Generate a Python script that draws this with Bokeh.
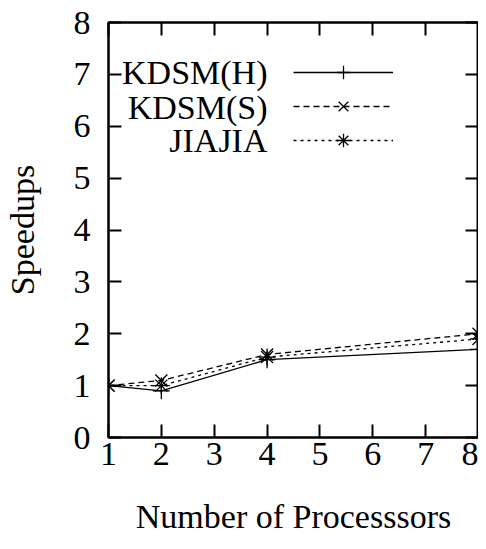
from bokeh.plotting import figure
from bokeh.models import (FixedTicker, LinearAxis, Legend, LegendItem, Label)
from bokeh.embed import file_html
from bokeh.resources import INLINE

# ---- data ----
procs = [1, 2, 4, 8]
kdsm_h = [1.0, 0.9, 1.5, 1.7]
kdsm_s = [1.0, 1.1, 1.6, 2.0]
jiajia = [1.0, 1.0, 1.55, 1.9]
series_names = ["KDSM(H)", "KDSM(S)", "JIAJIA"]
x_ticks = [1, 2, 3, 4, 5, 6, 7, 8]
y_ticks = [0, 1, 2, 3, 4, 5, 6, 7, 8]

FONT = "Liberation Serif"
FS = "34px"

p = figure(width=478, height=541, x_range=(1, 8), y_range=(0, 8),
           output_backend="svg", toolbar_location=None,
           min_border_left=100, min_border_right=0,
           min_border_top=22, min_border_bottom=104,
           x_axis_label="Number of Processsors", y_axis_label="Speedups")
p.grid.visible = False
p.background_fill_color = "white"
p.border_fill_color = "white"
p.outline_line_color = "black"
p.outline_line_width = 2

for ax in p.xaxis + p.yaxis:
    ax.major_tick_in = 13
    ax.major_tick_out = 0
    ax.minor_tick_line_color = None
    ax.major_tick_line_width = 2
    ax.axis_line_width = 2
    ax.major_label_text_font = FONT
    ax.major_label_text_font_size = FS
    ax.major_label_text_color = "black"
    ax.axis_label_text_font = FONT
    ax.axis_label_text_font_size = FS
    ax.axis_label_text_font_style = "normal"
    ax.axis_label_text_color = "black"

p.xaxis.ticker = FixedTicker(ticks=x_ticks)
p.yaxis.ticker = FixedTicker(ticks=y_ticks)
p.xaxis.major_label_standoff = 5
p.xaxis.axis_label_standoff = 30
p.yaxis.major_label_standoff = 18
p.yaxis.axis_label_standoff = 30

# mirror axes (ticks only)
for loc in ("right", "above"):
    ax = LinearAxis(ticker=FixedTicker(ticks=y_ticks if loc == "right" else x_ticks))
    ax.major_tick_in = 13
    ax.major_tick_out = 0
    ax.minor_tick_line_color = None
    ax.major_tick_line_width = 2
    ax.axis_line_width = 2
    ax.major_label_text_font_size = "0px"
    ax.major_label_standoff = 0
    ax.major_label_text_color = None
    p.add_layout(ax, loc)

styles = [
    dict(dash="solid", marker="cross"),
    dict(dash="6 4", marker="x"),
    dict(dash="3 4", marker="asterisk"),
]
items = []
for name, ys, st in zip(series_names, [kdsm_h, kdsm_s, jiajia], styles):
    rl = p.line(procs, ys, line_color="black", line_width=1.3, line_dash=st["dash"])
    rs = p.scatter(procs, ys, marker=st["marker"], size=17, line_color="black",
                   line_width=1.3, fill_color=None)
    items.append(LegendItem(label="", renderers=[rl, rs]))

legend = Legend(items=items, location=(185, 280), glyph_width=100, glyph_height=34,
                label_width=0, label_height=34, label_standoff=0, spacing=0,
                padding=0, margin=0, border_line_color=None,
                background_fill_color=None, label_text_font_size="1px")
p.add_layout(legend, "center")

for name, yy in zip(series_names, [365, 330, 297]):
    p.add_layout(Label(x=159, y=yy, x_units="screen", y_units="screen", text=name,
                       text_align="right", text_baseline="middle",
                       text_font=FONT, text_font_size=FS, text_color="black"))

open("out.html", "w").write(file_html(p, INLINE))
